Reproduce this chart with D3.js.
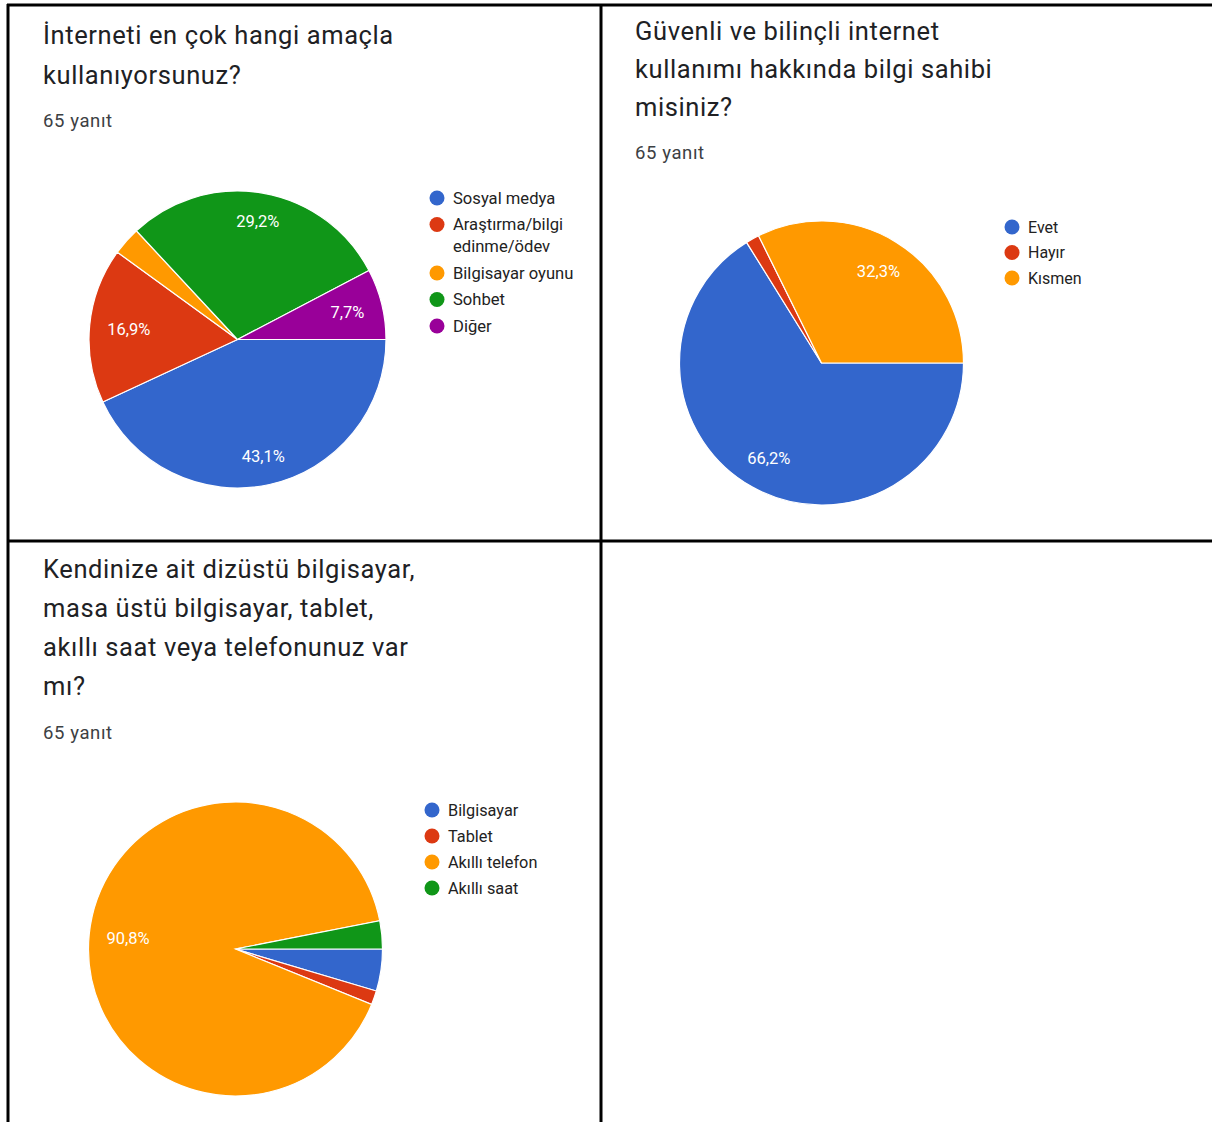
<!DOCTYPE html>
<html>
<head>
<meta charset="utf-8">
<script src="https://cdn.jsdelivr.net/npm/d3@7"></script>
<style>
  body { margin: 0; background: #fff; }
  svg { display: block; font-family: Roboto, "Noto Sans", Arial, sans-serif; }
</style>
</head>
<body>
<svg id="chart" width="1212" height="1122"></svg>
<script>
// --- data (65 answers per question) ---
var amacCategories = ["Sosyal medya", "Araştırma/bilgi\nedinme/ödev", "Bilgisayar oyunu", "Sohbet", "Diğer"];
var amacCounts = [28, 11, 2, 19, 5];

var bilgiCategories = ["Evet", "Hayır", "Kısmen"];
var bilgiCounts = [43, 1, 21];

var cihazCategories = ["Bilgisayar", "Tablet", "Akıllı telefon", "Akıllı saat"];
var cihazCounts = [3, 1, 59, 2];

var palette = ["#3366cc", "#dc3912", "#ff9900", "#109618", "#990099"];

// layout for each panel (positions only, no values)
var panels = [
    { title: ["İnterneti en çok hangi amaçla", "kullanıyorsunuz?"], answers: "65 yanıt",
      categories: amacCategories, counts: amacCounts,
      tx: 43, ty: 44, lineH: 40, ay: 127,
      cx: 237.5, cy: 339.5, r: 148.5,
      lx: 437, ly: 198, rowH: 26.5, wrapH: 22, fs: 16.6 },
    { title: ["Güvenli ve bilinçli internet", "kullanımı hakkında bilgi sahibi", "misiniz?"], answers: "65 yanıt",
      categories: bilgiCategories, counts: bilgiCounts,
      tx: 635, ty: 40, lineH: 38, ay: 159,
      cx: 821.5, cy: 363, r: 142,
      lx: 1012, ly: 227, rowH: 25.5, wrapH: 22, fs: 16 },
    { title: ["Kendinize ait dizüstü bilgisayar,", "masa üstü bilgisayar, tablet,", "akıllı saat veya telefonunuz var", "mı?"], answers: "65 yanıt",
      categories: cihazCategories, counts: cihazCounts,
      tx: 43, ty: 578, lineH: 39, ay: 739,
      cx: 235.5, cy: 949, r: 147,
      lx: 432, ly: 810, rowH: 26, wrapH: 22, fs: 16.3 }
];

var svg = d3.select("#chart");
svg.append("rect").attr("width", 1212).attr("height", 1122).attr("fill", "#fff");

var fmt = function (v) { return (v * 100).toFixed(1).replace(".", ",") + "%"; };

panels.forEach(function (p) {
    var g = svg.append("g");

    // title lines
    g.selectAll("text.title")
        .data(p.title)
        .enter().append("text")
        .attr("class", "title")
        .attr("x", p.tx)
        .attr("y", function (d, i) { return p.ty + i * p.lineH; })
        .style("font-size", "25.5px")
        .style("letter-spacing", "0.6px")
        .style("fill", "#202124")
        .text(function (d) { return d; });

    g.append("text")
        .attr("x", p.tx)
        .attr("y", p.ay)
        .style("font-size", "18.5px")
        .style("letter-spacing", "0.6px")
        .style("fill", "#3c4043")
        .text(p.answers);

    // pie
    var total = d3.sum(p.counts);
    var items = p.counts.map(function (c, i) { return { name: p.categories[i], value: c, i: i }; });
    var pie = d3.pie()
        .value(function (d) { return d.value; })
        .sort(null)
        .startAngle(Math.PI / 2)
        .endAngle(Math.PI / 2 + 2 * Math.PI);
    var arcs = pie(items);
    var arc = d3.arc().innerRadius(0).outerRadius(p.r);

    var pg = g.append("g").attr("transform", "translate(" + p.cx + "," + p.cy + ")");
    pg.selectAll("path")
        .data(arcs)
        .enter().append("path")
        .attr("d", arc)
        .attr("fill", function (d) { return palette[d.data.i]; })
        .attr("stroke", "#fff")
        .attr("stroke-width", 1.2);

    // labels: the outer edge of the text box sits at a fixed radius
    pg.selectAll("text")
        .data(arcs.filter(function (d) { return d.data.value / total > 0.05; }))
        .enter().append("text")
        .attr("text-anchor", "middle")
        .attr("dy", "0.35em")
        .style("font-size", "16.5px")
        .style("fill", "#fff")
        .text(function (d) { return fmt(d.data.value / total); })
        .attr("transform", function (d) {
            var a = (d.startAngle + d.endAngle) / 2;
            var sx = Math.sin(a), sy = -Math.cos(a);
            var hw = this.getComputedTextLength() / 2, hh = 7.5;
            var dist = p.r * 0.885 - (hw * Math.abs(sx) + hh * Math.abs(sy));
            return "translate(" + (dist * sx) + "," + (dist * sy) + ")";
        });

    // legend
    var y = p.ly;
    items.forEach(function (d) {
        var lines = d.name.split("\n");
        g.append("circle")
            .attr("cx", p.lx)
            .attr("cy", y)
            .attr("r", 7.5)
            .attr("fill", palette[d.i]);
        lines.forEach(function (ln, k) {
            g.append("text")
                .attr("x", p.lx + 16)
                .attr("y", y + k * p.wrapH)
                .attr("dy", "0.35em")
                .style("font-size", p.fs + "px")
                .style("fill", "#222")
                .text(ln);
        });
        y += p.rowH + (lines.length - 1) * p.wrapH;
    });
});

// table borders
var borders = [
    [7, 5, 1212, 5],
    [8, 4, 8, 1122],
    [601, 4, 601, 1122],
    [7, 541, 1212, 541]
];
svg.selectAll("line.border")
    .data(borders)
    .enter().append("line")
    .attr("class", "border")
    .attr("x1", function (d) { return d[0]; })
    .attr("y1", function (d) { return d[1]; })
    .attr("x2", function (d) { return d[2]; })
    .attr("y2", function (d) { return d[3]; })
    .attr("stroke", "#000")
    .attr("stroke-width", 3);
</script>
</body>
</html>
